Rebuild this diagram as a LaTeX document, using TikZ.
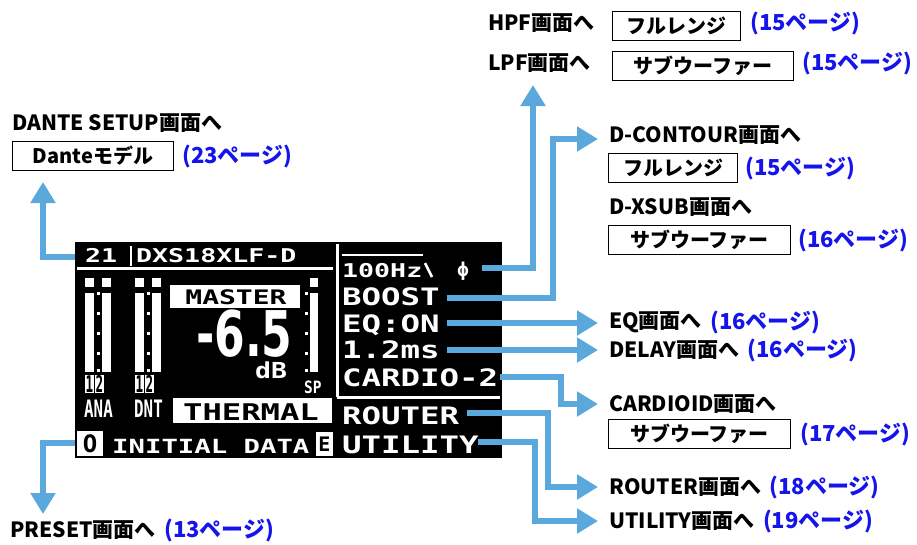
\documentclass[tikz,border=0pt]{standalone}
\usepackage{fontspec}
\usepackage{graphicx}
\usetikzlibrary{arrows.meta}
\newfontfamily\jp{Noto Sans CJK JP}
\newfontfamily\lcdf{DejaVu Sans Mono}
\newfontfamily\bigf{DejaVu Sans}
\definecolor{arrblue}{RGB}{91,168,221}
\definecolor{pgblue}{RGB}{20,20,235}
\newcommand{\lcdt}[3]{{\fontsize{#1}{#1}\selectfont\lcdf\bfseries\scalebox{#2}[1]{#3}}}
\tikzset{
  arr/.style={draw=arrblue, line width=6pt, line join=miter, -{Triangle[length=21pt,width=24pt]}},
  lbl/.style={anchor=west, inner sep=0pt, font=\jp\bfseries\fontsize{21}{24}\selectfont},
  pg/.style={anchor=west, inner sep=0pt, text=pgblue, font=\jp\bfseries\fontsize{22}{24}\selectfont},
  boxn/.style={draw, line width=1pt, anchor=north west, inner sep=0pt, minimum height=29pt, font=\jp\bfseries\fontsize{20}{24}\selectfont},
  lcd/.style={text=white, inner sep=0pt, anchor=base west},
  lcdk/.style={text=black, inner sep=0pt},
  wl/.style={draw=white, line width=3pt},
}
\begin{document}
\begin{tikzpicture}[x=1pt,y=-1pt]
\useasboundingbox (0,0) rectangle (917,544);
% ---------- screen ----------
\fill[black] (75,242) rectangle (502,458);
\draw[wl] (77,268) -- (333,268);
\draw[wl, line width=2pt] (131,246) -- (131,266);
\draw[wl] (337,244) -- (337,397);
\draw[wl] (337,397) -- (500,397);
\draw[wl, line width=2pt] (342,255) -- (423,255);
\draw[wl, line width=2.5pt] (425,263) -- (432,277);
% header
\node[lcd] (chan) at (85,262) {\lcdt{19}{1.4}{21}};
\node[lcd] (model) at (136,262) {\lcdt{19}{1.4}{DXS18XLF-D}};
% meters
\foreach \ox in {85,135}{
  \fill[white] (\ox,278) rectangle ++(9,9);
  \fill[white] (\ox+17,278) rectangle ++(9,9);
  \fill[white] (\ox,293) rectangle (\ox+9,372);
  \fill[white] (\ox+17,293) rectangle (\ox+26,372);
  \foreach \yy in {292,312,332,352,369}{\fill[white] (\ox+12,\yy) rectangle ++(3,3);}
  \fill[white] (\ox,375) rectangle (\ox+9,393);
  \fill[white] (\ox+10,375) rectangle (\ox+19,393);
  \node[lcdk] at (\ox+4.5,384) {\lcdt{23}{0.55}{1}};
  \node[lcdk] at (\ox+14.5,384) {\lcdt{23}{0.55}{2}};
}
\node[lcd] (ana) at (84,417) {\lcdt{24}{0.66}{ANA}};
\node[lcd] (dnt) at (134,417) {\lcdt{24}{0.66}{DNT}};
% SP meter
\fill[white] (310,278) rectangle (318,287);
\fill[white] (310,293) rectangle (318,372);
\foreach \yy in {292,312,332,352,369}{\fill[white] (305,\yy) rectangle ++(3,3);}
\node[lcd] (sp) at (304,393) {\lcdt{17}{0.85}{SP}};
% master
\fill[white] (170,285) rectangle (300,308);
\node[lcdk, anchor=base] (master) at (236,304) {\lcdt{20}{1.4}{MASTER}};
\node[lcd] (val) at (196,356) {{\fontsize{63}{63}\selectfont\bigf\bfseries\scalebox{0.7}[1]{-6.5}}};
\node[lcd] (db) at (255,378) {\lcdt{22}{1.2}{dB}};
% thermal
\fill[white] (173,398) rectangle (332,423);
\node[lcdk, anchor=base] (thermal) at (251,420) {\lcdt{23}{1.4}{THERMAL}};
% bottom row
\fill[white] (77,431) rectangle (103,456);
\node[lcdk] (obox) at (90,444) {\lcdt{24}{1.0}{O}};
\node[lcd] (init) at (112,453) {\lcdt{19.5}{1.4}{INITIAL DATA}};
\fill[white] (316,432) rectangle (333,456);
\node[lcdk] (ebox) at (324.5,444) {\lcdt{20}{1.0}{E}};
% right panel
\node[lcd] (hz) at (342,277) {\lcdt{19}{1.4}{100Hz}};
\node[text=white, inner sep=0pt] (phi) at (463,271) {{\fontsize{19}{19}\selectfont\lcdf\bfseries ϕ}};
\node[lcd] (boost) at (342,305) {\lcdt{24}{1.35}{BOOST}};
\node[lcd] (eqon) at (342,332) {\lcdt{24}{1.35}{EQ:ON}};
\node[lcd] (delay) at (342,358) {\lcdt{24}{1.35}{1.2ms}};
\node[lcd] (cardio) at (342,386) {\lcdt{24}{1.35}{CARDIO-2}};
\node[lcd] (router) at (342,424) {\lcdt{24}{1.35}{ROUTER}};
\node[lcd] (util) at (342,453) {\lcdt{24}{1.35}{UTILITY}};
% ---------- connector endpoints ----------
\coordinate (sDante) at (75,257);
\coordinate (tDante) at (43,182);
\coordinate (sPreset) at (75,443);
\coordinate (tPreset) at (43,514);
\coordinate (sPhi) at (482,268);
\coordinate (tHpf) at (533,85);
\coordinate (sBoost) at (447,298);
\coordinate (bBoost) at (553,139);
\coordinate (tDcont) at (598,139);
\coordinate (sEq) at (447,323);
\coordinate (tEq) at (598,323);
\coordinate (sDelay) at (447,350);
\coordinate (tDelay) at (598,350);
\coordinate (sCardio) at (500,377);
\coordinate (bCardio) at (561,404);
\coordinate (tCardio) at (598,404);
\coordinate (sRouter) at (467,413);
\coordinate (bRouter) at (548,487);
\coordinate (tRouter) at (598,487);
\coordinate (sUtil) at (478,442);
\coordinate (bUtil) at (535,521);
\coordinate (tUtil) at (598,521);
% ---------- arrows ----------
\draw[arr] (sDante) -| (tDante);
\draw[arr] (sPreset) -| (tPreset);
\draw[arr] (sPhi) -| (tHpf);
\draw[arr] (sBoost) -| (bBoost) -- (tDcont);
\draw[arr] (sEq) -- (tEq);
\draw[arr] (sDelay) -- (tDelay);
\draw[arr] (sCardio) -| (bCardio) -- (tCardio);
\draw[arr] (sRouter) -| (bRouter) -- (tRouter);
\draw[arr] (sUtil) -| (bUtil) -- (tUtil);
% ---------- labels ----------
\node[lbl] (hpf) at (488,23) {HPF画面へ};
\node[boxn, minimum width=128pt] (hpfb) at (612,11) {フルレンジ};
\node[pg] (hpfp) at (750,24) {(15ページ)};
\node[lbl] (lpf) at (488,63) {LPF画面へ};
\node[boxn, minimum width=181pt] (lpfb) at (612,51) {サブウーファー};
\node[pg] (lpfp) at (802,64) {(15ページ)};
\node[lbl] (dante) at (12,123) {DANTE SETUP画面へ};
\node[boxn, minimum width=161pt] (danteb) at (12,141) {Danteモデル};
\node[pg] (dantep) at (182,156) {(23ページ)};
\node[lbl] (dcont) at (609,135) {D-CONTOUR画面へ};
\node[boxn, minimum width=129pt] (dcontb) at (608,153) {フルレンジ};
\node[pg] (dcontp) at (745,168) {(15ページ)};
\node[lbl] (dxsub) at (609,207) {D-XSUB画面へ};
\node[boxn, minimum width=182pt] (dxsubb) at (608,225) {サブウーファー};
\node[pg] (dxsubp) at (798,240) {(16ページ)};
\node[lbl] (eq) at (609,322) {EQ画面へ};
\node[pg] (eqp) at ([xshift=8pt]eq.east) {(16ページ)};
\node[lbl] (dl) at (609,350) {DELAY画面へ};
\node[pg] (dlp) at ([xshift=8pt]dl.east) {(16ページ)};
\node[lbl] (card) at (609,404) {CARDIOID画面へ};
\node[boxn, minimum width=182pt] (cardb) at (608,419) {サブウーファー};
\node[pg] (cardp) at (800,434) {(17ページ)};
\node[lbl] (rt) at (609,487) {ROUTER画面へ};
\node[pg] (rtp) at ([xshift=8pt]rt.east) {(18ページ)};
\node[lbl] (ut) at (609,521) {UTILITY画面へ};
\node[pg] (utp) at ([xshift=8pt]ut.east) {(19ページ)};
\node[lbl] (pre) at (10,530) {PRESET画面へ};
\node[pg] (prep) at ([xshift=8pt]pre.east) {(13ページ)};
\end{tikzpicture}
\end{document}
